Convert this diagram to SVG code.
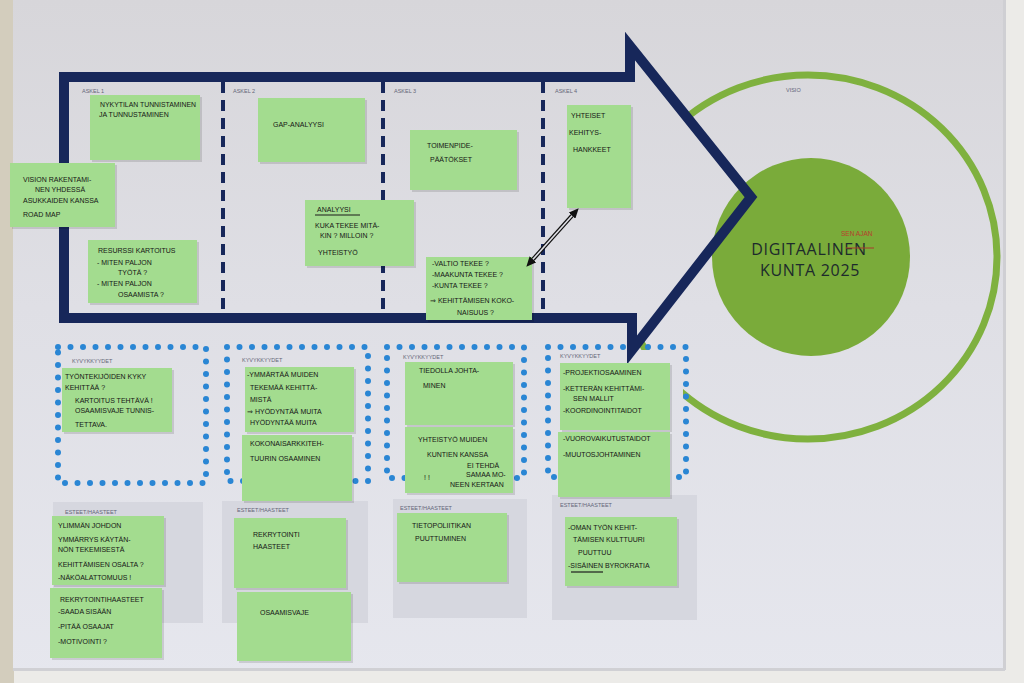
<svg xmlns="http://www.w3.org/2000/svg" width="1024" height="683" viewBox="0 0 1024 683">
<defs>
<linearGradient id="paper" gradientUnits="userSpaceOnUse" x1="0" y1="0" x2="0" y2="683">
<stop offset="0" stop-color="#d7d6da"/>
<stop offset="0.45" stop-color="#dfdfe5"/>
<stop offset="1" stop-color="#e6e7ee"/>
</linearGradient>
<marker id="ah" markerUnits="userSpaceOnUse" markerWidth="10" markerHeight="9" refX="0" refY="4.5" orient="auto-start-reverse">
<path d="M0,0 L10,4.5 L0,9 z" fill="#111"/>
</marker>
<style>
.note{fill:#a3dc8f}
.sh{fill:#000;opacity:.12}
.hw{font-family:"Liberation Sans",Arial,sans-serif;font-size:7px;fill:#161616}
.lbl{font-family:"Liberation Sans",Arial,sans-serif;font-size:5.5px;fill:#646678}
.panel{fill:#d6d7df}
.dots{fill:none;stroke:#2a86d4;stroke-width:6;stroke-linecap:round;stroke-dasharray:0 12.5}
.sep{stroke:#17275a;stroke-width:4;stroke-dasharray:11 7}
</style>
</defs>

<g id="background">
<rect x="0" y="0" width="1024" height="683" fill="#ecebe8"/>
<rect x="0" y="0" width="14" height="683" fill="#d3cdbd"/>
<rect x="13" y="0" width="992" height="670" fill="url(#paper)"/>
<rect x="1003" y="0" width="3" height="670" fill="#cfcfd3"/>
<rect x="13" y="668" width="992" height="3" fill="#d0d0d4"/>
</g>

<g id="vision-ring">
<ellipse cx="808" cy="257" rx="189" ry="182" fill="none" stroke="#7fb13f" stroke-width="7"/>
</g>

<g id="covers">
<polygon points="64,77 630,77 630,46 751,197 632,350 632,318 64,318" fill="url(#paper)"/>
<rect x="551" y="350" width="132" height="124" fill="url(#paper)"/>
</g>

<g id="vision">
<circle cx="811" cy="257" r="99" fill="#7aab3a"/>
<text x="809" y="255" text-anchor="middle" font-family="'Open Sans','Liberation Sans',sans-serif" font-size="16" letter-spacing="0.7" fill="#1d2a2c">DIGITAALINEN</text>
<text x="810" y="276" text-anchor="middle" font-family="'Open Sans','Liberation Sans',sans-serif" font-size="16" letter-spacing="0.7" fill="#1d2a2c">KUNTA 2025</text>
<line x1="846" y1="248" x2="874" y2="248" stroke="#a83a2c" stroke-width="1"/>
<text x="841" y="236" font-family="'Liberation Sans',Arial,sans-serif" font-size="6.5" fill="#b8402c">SEN AJAN</text>
<text x="786" y="92" class="lbl">VISIO</text>
</g>

<g id="kyvykkyydet-boxes">
<rect class="dots" x="58" y="347" width="148" height="136"/>
<rect class="dots" x="227" y="347" width="141" height="134"/>
<rect class="dots" x="387" y="347" width="137" height="131"/>
<rect class="dots" x="548" y="347" width="138" height="130"/>
<text x="72" y="363" class="lbl">KYVYKKYYDET</text>
<text x="242" y="362" class="lbl">KYVYKKYYDET</text>
<text x="403" y="359" class="lbl">KYVYKKYYDET</text>
<text x="560" y="358" class="lbl">KYVYKKYYDET</text>
</g>

<g id="steps-frame">
<polygon points="64,77 630,77 630,46 751,197 632,350 632,318 64,318" fill="none" stroke="#17275a" stroke-width="10" stroke-linejoin="miter"/>
<line class="sep" x1="223" y1="82" x2="223" y2="314"/>
<line class="sep" x1="383" y1="82" x2="383" y2="314"/>
<line class="sep" x1="543" y1="82" x2="543" y2="314"/>
<text x="82" y="93" class="lbl">ASKEL 1</text>
<text x="233" y="93" class="lbl">ASKEL 2</text>
<text x="394" y="93" class="lbl">ASKEL 3</text>
<text x="555" y="93" class="lbl">ASKEL 4</text>
</g>

<g id="esteet-panels">
<rect class="panel" x="53" y="502" width="150" height="121"/>
<rect class="panel" x="222" y="501" width="146" height="122"/>
<rect class="panel" x="393" y="499" width="134" height="119"/>
<rect class="panel" x="552" y="495" width="145" height="125"/>
<text x="65" y="514" class="lbl">ESTEET/HAASTEET</text>
<text x="237" y="512" class="lbl">ESTEET/HAASTEET</text>
<text x="400" y="510" class="lbl">ESTEET/HAASTEET</text>
<text x="560" y="507" class="lbl">ESTEET/HAASTEET</text>
</g>

<g id="note-a1" transform="translate(90,95)">
<rect class="sh" x="2" y="2" width="110" height="65"/><rect class="note" width="110" height="65"/>
<text class="hw" x="10" y="12" textLength="96" lengthAdjust="spacingAndGlyphs">NYKYTILAN TUNNISTAMINEN</text>
<text class="hw" x="9" y="22">JA TUNNUSTAMINEN</text>
</g>

<g id="note-a1-vision" transform="translate(10,163)">
<rect class="sh" x="2" y="2" width="105" height="64"/><rect class="note" width="105" height="64"/>
<text class="hw" x="13" y="19">VISION RAKENTAMI-</text>
<text class="hw" x="25" y="29">NEN YHDESSÄ</text>
<text class="hw" x="13" y="40">ASUKKAIDEN KANSSA</text>
<text class="hw" x="13" y="54" font-size="8">ROAD MAP</text>
</g>

<g id="note-a1-resurssi" transform="translate(88,240)">
<rect class="sh" x="2" y="2" width="109" height="63"/><rect class="note" width="109" height="63"/>
<text class="hw" x="10" y="13">RESURSSI KARTOITUS</text>
<text class="hw" x="9" y="25">- MITEN PALJON</text>
<text class="hw" x="30" y="35">TYÖTÄ ?</text>
<text class="hw" x="9" y="46">- MITEN PALJON</text>
<text class="hw" x="30" y="57">OSAAMISTA ?</text>
</g>

<g id="note-a2-gap" transform="translate(258,98)">
<rect class="sh" x="2" y="2" width="107" height="64"/><rect class="note" width="107" height="64"/>
<text class="hw" x="15" y="29" font-size="9">GAP-ANALYYSI</text>
</g>

<g id="note-a2-analyysi" transform="translate(305,200)">
<rect class="sh" x="2" y="2" width="109" height="66"/><rect class="note" width="109" height="66"/>
<text class="hw" x="12" y="12" font-size="8">ANALYYSI</text>
<line x1="10" y1="15" x2="55" y2="15" stroke="#1b1b1b" stroke-width="1"/>
<text class="hw" x="10" y="28">KUKA TEKEE MITÄ-</text>
<text class="hw" x="15" y="38">KIN ? MILLOIN ?</text>
<text class="hw" x="13" y="55" font-size="13">YHTEISTYÖ</text>
</g>

<g id="note-a3-toimenpide" transform="translate(410,130)">
<rect class="sh" x="2" y="2" width="107" height="60"/><rect class="note" width="107" height="60"/>
<text class="hw" x="17" y="18">TOIMENPIDE-</text>
<text class="hw" x="20" y="32">PÄÄTÖKSET</text>
</g>

<g id="note-a3-valtio" transform="translate(426,257)">
<rect class="sh" x="2" y="2" width="106" height="63"/><rect class="note" width="106" height="63"/>
<text class="hw" x="6" y="9">-VALTIO TEKEE ?</text>
<text class="hw" x="6" y="20">-MAAKUNTA TEKEE ?</text>
<text class="hw" x="6" y="31">-KUNTA TEKEE ?</text>
<text class="hw" x="4" y="46">⇒ KEHITTÄMISEN KOKO-</text>
<text class="hw" x="31" y="58">NAISUUS ?</text>
</g>

<g id="note-a4-yhteiset" transform="translate(567,105)">
<rect class="sh" x="2" y="2" width="64" height="103"/><rect class="note" width="64" height="103"/>
<text class="hw" x="4" y="13" font-size="8">YHTEISET</text>
<text class="hw" x="2" y="30" font-size="8">KEHITYS-</text>
<text class="hw" x="6" y="47" font-size="8">HANKKEET</text>
</g>

<g id="note-k1" transform="translate(62,368)">
<rect class="sh" x="2" y="2" width="110" height="64"/><rect class="note" width="110" height="64"/>
<text class="hw" x="3" y="11">TYÖNTEKIJÖIDEN KYKY</text>
<text class="hw" x="3" y="22">KEHITTÄÄ ?</text>
<text class="hw" x="13" y="35">KARTOITUS TEHTÄVÄ !</text>
<text class="hw" x="13" y="45">OSAAMISVAJE TUNNIS-</text>
<text class="hw" x="13" y="59">TETTAVA.</text>
</g>

<g id="note-k2-ymmartaa" transform="translate(245,367)">
<rect class="sh" x="2" y="2" width="109" height="65"/><rect class="note" width="109" height="65"/>
<text class="hw" x="2" y="10">-YMMÄRTÄÄ MUIDEN</text>
<text class="hw" x="5" y="23">TEKEMÄÄ KEHITTÄ-</text>
<text class="hw" x="5" y="35">MISTÄ</text>
<text class="hw" x="2" y="47">⇒ HYÖDYNTÄÄ MUITA</text>
<text class="hw" x="5" y="58">HYÖDYNTÄÄ MUITA</text>
</g>

<g id="note-k2-arkkitehtuuri" transform="translate(242,435)">
<rect class="sh" x="2" y="2" width="110" height="66"/><rect class="note" width="110" height="66"/>
<text class="hw" x="8" y="11">KOKONAISARKKITEH-</text>
<text class="hw" x="8" y="26">TUURIN OSAAMINEN</text>
</g>

<g id="note-k3-tiedolla" transform="translate(405,362)">
<rect class="sh" x="2" y="2" width="108" height="63"/><rect class="note" width="108" height="63"/>
<text class="hw" x="14" y="11">TIEDOLLA JOHTA-</text>
<text class="hw" x="18" y="26">MINEN</text>
</g>

<g id="note-k3-yhteistyo" transform="translate(405,427)">
<rect class="sh" x="2" y="2" width="108" height="66"/><rect class="note" width="108" height="66"/>
<text class="hw" x="13" y="15">YHTEISTYÖ MUIDEN</text>
<text class="hw" x="22" y="30">KUNTIEN KANSSA</text>
<text class="hw" x="19" y="53" font-size="15">! !</text>
<text class="hw" x="62" y="41">EI TEHDÄ</text>
<text class="hw" x="61" y="50">SAMAA MO-</text>
<text class="hw" x="45" y="60">NEEN KERTAAN</text>
</g>

<g id="note-k4-projekti" transform="translate(560,363)">
<rect class="sh" x="2" y="2" width="110" height="67"/><rect class="note" width="110" height="67"/>
<text class="hw" x="3" y="12">-PROJEKTIOSAAMINEN</text>
<text class="hw" x="3" y="28">-KETTERÄN KEHITTÄMI-</text>
<text class="hw" x="13" y="38">SEN MALLIT</text>
<text class="hw" x="3" y="50">-KOORDINOINTITAIDOT</text>
</g>

<g id="note-k4-vuorovaikutus" transform="translate(558,432)">
<rect class="sh" x="2" y="2" width="112" height="65"/><rect class="note" width="112" height="65"/>
<text class="hw" x="5" y="9">-VUOROVAIKUTUSTAIDOT</text>
<text class="hw" x="5" y="25">-MUUTOSJOHTAMINEN</text>
</g>

<g id="note-e1-johto" transform="translate(52,516)">
<rect class="sh" x="2" y="2" width="112" height="69"/><rect class="note" width="112" height="69"/>
<text class="hw" x="6" y="12">YLIMMÄN JOHDON</text>
<text class="hw" x="6" y="26">YMMÄRRYS KÄYTÄN-</text>
<text class="hw" x="6" y="36">NÖN TEKEMISESTÄ</text>
<text class="hw" x="6" y="51">KEHITTÄMISEN OSALTA ?</text>
<text class="hw" x="6" y="64">-NÄKÖALATTOMUUS !</text>
</g>

<g id="note-e1-rekry" transform="translate(50,588)">
<rect class="sh" x="2" y="2" width="112" height="70"/><rect class="note" width="112" height="70"/>
<text class="hw" x="10" y="14">REKRYTOINTIHAASTEET</text>
<text class="hw" x="8" y="26">-SAADA SISÄÄN</text>
<text class="hw" x="8" y="41">-PITÄÄ OSAAJAT</text>
<text class="hw" x="8" y="56">-MOTIVOINTI ?</text>
</g>

<g id="note-e2-rekry" transform="translate(234,518)">
<rect class="sh" x="2" y="2" width="112" height="70"/><rect class="note" width="112" height="70"/>
<text class="hw" x="19" y="19">REKRYTOINTI</text>
<text class="hw" x="19" y="31">HAASTEET</text>
</g>

<g id="note-e2-osaamisvaje" transform="translate(237,592)">
<rect class="sh" x="2" y="2" width="114" height="69"/><rect class="note" width="114" height="69"/>
<text class="hw" x="23" y="23">OSAAMISVAJE</text>
</g>

<g id="note-e3-tietopolitiikka" transform="translate(397,513)">
<rect class="sh" x="2" y="2" width="110" height="69"/><rect class="note" width="110" height="69"/>
<text class="hw" x="15" y="15">TIETOPOLIITIKAN</text>
<text class="hw" x="18" y="28">PUUTTUMINEN</text>
</g>

<g id="note-e4-kulttuuri" transform="translate(565,517)">
<rect class="sh" x="2" y="2" width="112" height="69"/><rect class="note" width="112" height="69"/>
<text class="hw" x="3" y="13">-OMAN TYÖN KEHIT-</text>
<text class="hw" x="8" y="25">TÄMISEN KULTTUURI</text>
<text class="hw" x="13" y="38">PUUTTUU</text>
<text class="hw" x="3" y="51">-SISÄINEN BYROKRATIA</text>
<line x1="6" y1="55" x2="38" y2="55" stroke="#1b1b1b" stroke-width="1.2"/>
</g>

<g id="connectors">
<path d="M533,259.3 L572,215.7" stroke="#111" stroke-width="4" fill="none" marker-start="url(#ah)" marker-end="url(#ah)"/>
<path d="M533,259.3 L572,215.7" stroke="#e0e0e6" stroke-width="1.6" fill="none"/>
</g>
</svg>
